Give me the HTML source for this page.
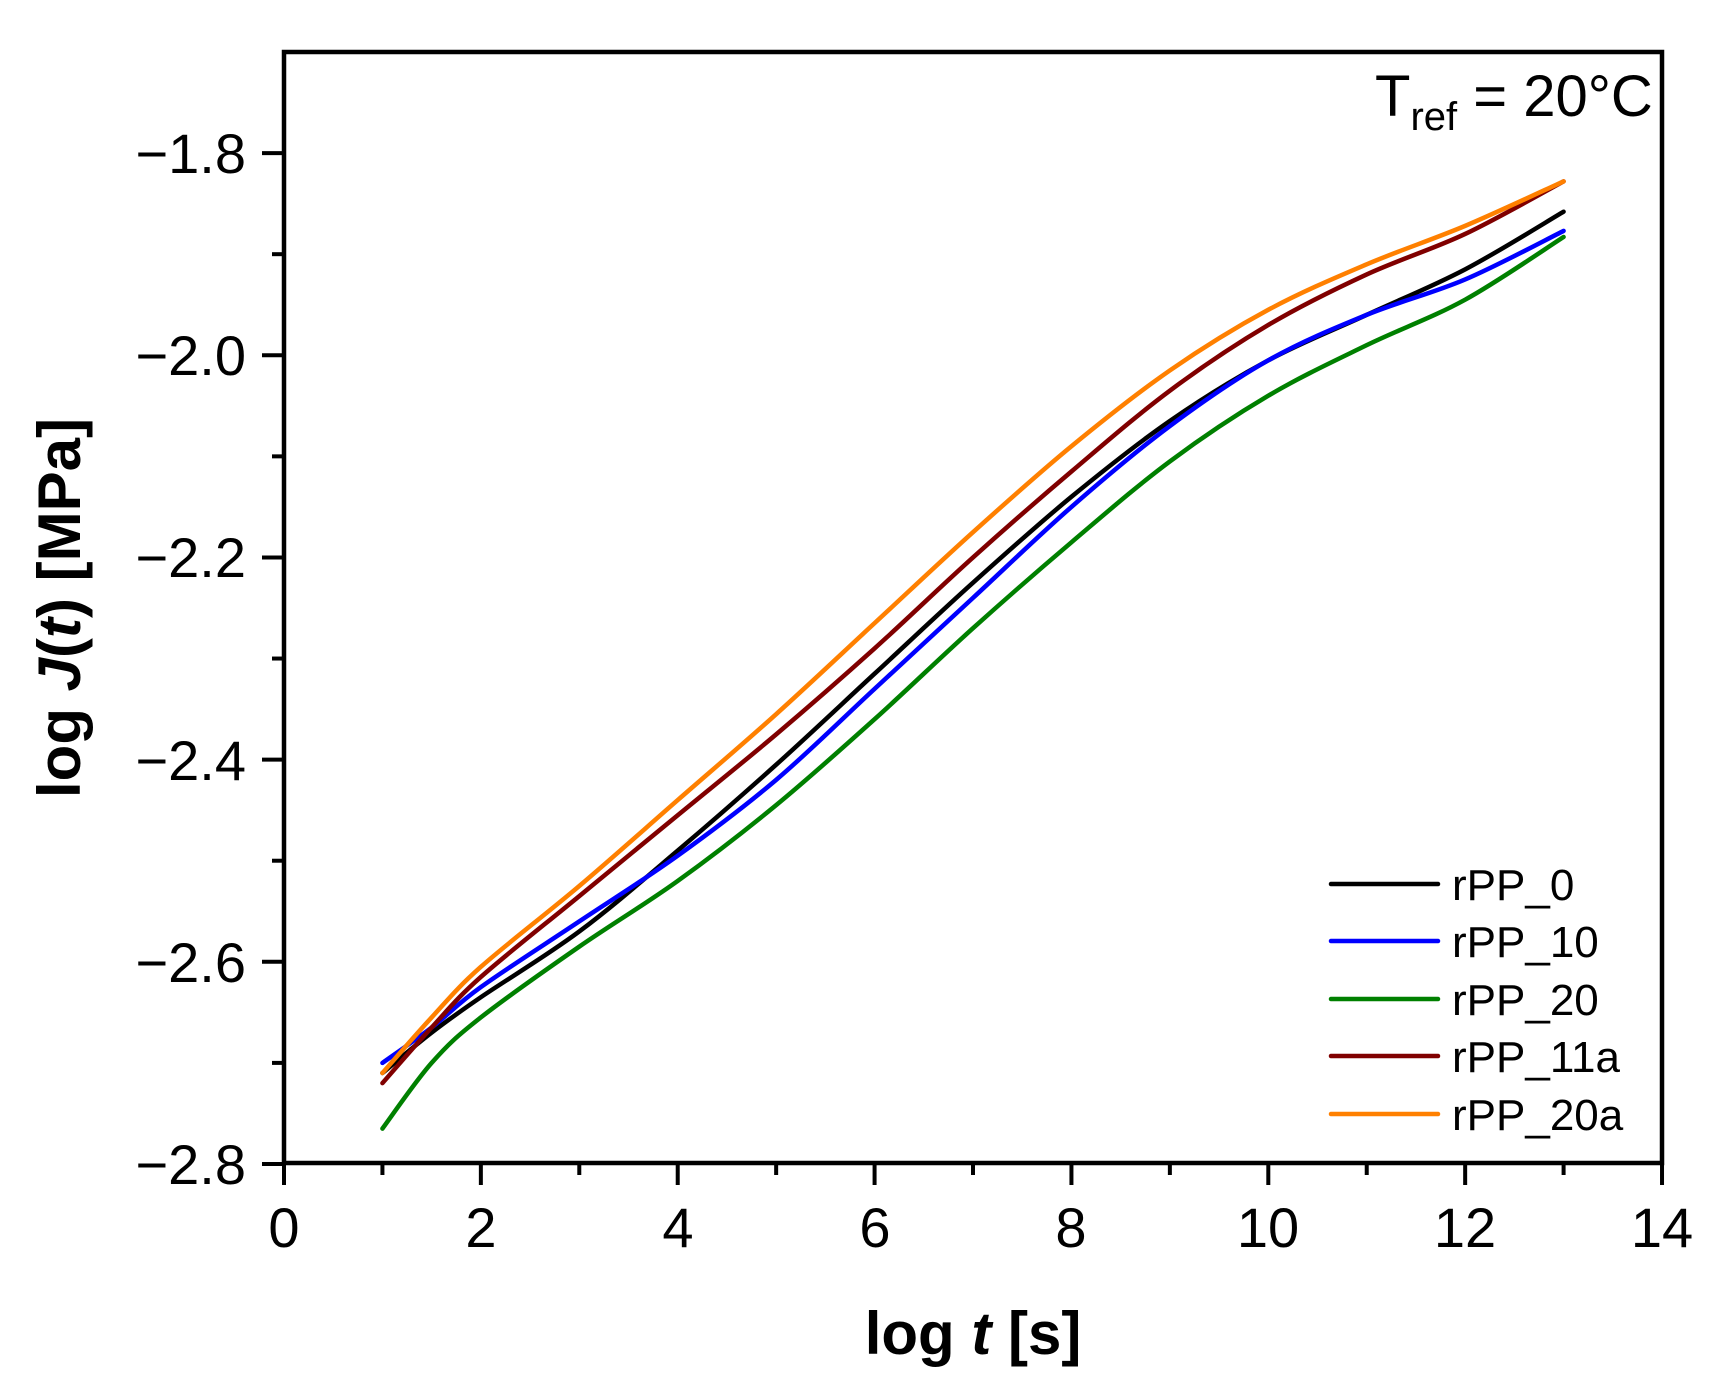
<!DOCTYPE html>
<html><head><meta charset="utf-8"><style>
html,body{margin:0;padding:0;background:#fff;}
svg{display:block;font-family:"Liberation Sans",Arial,sans-serif;}
</style></head><body>
<svg id="s" width="1732" height="1381" viewBox="0 0 1732 1381" xmlns="http://www.w3.org/2000/svg">
<rect width="1732" height="1381" fill="#fff"/>
<g id="ticks" stroke="#000" stroke-width="4"></g>
<g id="curves" fill="none" stroke-width="4.5" stroke-linejoin="round" stroke-linecap="round"></g>
<rect x="284" y="52" width="1378" height="1111" fill="none" stroke="#000" stroke-width="4.5"/>
<g font-size="56" fill="#000" text-anchor="end">
<text x="246" y="173">−1.8</text>
<text x="246" y="375">−2.0</text>
<text x="246" y="577">−2.2</text>
<text x="246" y="780">−2.4</text>
<text x="246" y="982">−2.6</text>
<text x="246" y="1184">−2.8</text>
</g>
<g font-size="56" fill="#000" text-anchor="middle">
<text x="284" y="1247">0</text>
<text x="481" y="1247">2</text>
<text x="678" y="1247">4</text>
<text x="875" y="1247">6</text>
<text x="1071" y="1247">8</text>
<text x="1268" y="1247">10</text>
<text x="1465" y="1247">12</text>
<text x="1662" y="1247">14</text>
</g>
<text x="973" y="1354" font-size="60" font-weight="bold" text-anchor="middle">log <tspan font-style="italic">t</tspan> [s]</text>
<text transform="translate(80,608) rotate(-90)" font-size="60" font-weight="bold" text-anchor="middle">log <tspan font-style="italic">J</tspan>(<tspan font-style="italic">t</tspan>) [MPa]</text>
<text x="1375" y="116" font-size="58">T<tspan font-size="40" dy="14">ref</tspan><tspan dy="-14"> = 20°C</tspan></text>
<g stroke-width="4.5" stroke-linecap="round">
<line x1="1331" y1="884" x2="1438" y2="884" stroke="#000"/>
<line x1="1331" y1="941" x2="1438" y2="941" stroke="#0000ff"/>
<line x1="1331" y1="999" x2="1438" y2="999" stroke="#008000"/>
<line x1="1331" y1="1056" x2="1438" y2="1056" stroke="#800000"/>
<line x1="1331" y1="1114" x2="1438" y2="1114" stroke="#ff8000"/>
</g>
<g font-size="44" fill="#000">
<text x="1452" y="900">rPP_0</text>
<text x="1452" y="957">rPP_10</text>
<text x="1452" y="1015">rPP_20</text>
<text x="1452" y="1072">rPP_11a</text>
<text x="1452" y="1130">rPP_20a</text>
</g>
</svg>
<script>
(function(){
function X(x){return 284+98.43*x;}
function Y(y){return 52+1010.9*(-1.7-y);}
var t=document.getElementById("ticks"),h="";
for(var i=0;i<=14;i++){var x=X(i),L=(i%2==0)?22:12;h+='<line x1="'+x+'" y1="1163" x2="'+x+'" y2="'+(1163+L)+'"/>';}
for(var j=0;j<=11;j++){var v=-2.8+j*0.1,y=Y(v),L=(j%2==0)?22:12;if(y<54)continue;h+='<line x1="284" y1="'+y+'" x2="'+(284-L)+'" y2="'+y+'"/>';}
t.innerHTML=h;
var xs=[1,1.5,2,3,4,5,6,7,8,9,10,11,12,13];
var D=[
["#000",[-2.71,-2.67,-2.635,-2.57,-2.49,-2.405,-2.315,-2.225,-2.14,-2.065,-2.005,-1.96,-1.915,-1.858]],
["#0000ff",[-2.70,-2.665,-2.625,-2.56,-2.495,-2.42,-2.33,-2.24,-2.15,-2.07,-2.005,-1.96,-1.925,-1.877]],
["#008000",[-2.765,-2.70,-2.655,-2.585,-2.52,-2.445,-2.36,-2.27,-2.185,-2.105,-2.04,-1.99,-1.945,-1.883]],
["#800000",[-2.72,-2.665,-2.615,-2.535,-2.455,-2.375,-2.29,-2.2,-2.115,-2.035,-1.97,-1.92,-1.88,-1.828]],
["#ff8000",[-2.71,-2.655,-2.605,-2.525,-2.44,-2.355,-2.265,-2.175,-2.09,-2.015,-1.955,-1.91,-1.872,-1.828]]];
var g=document.getElementById("curves"),out="";
D.forEach(function(s){
var P=xs.map(function(x,k){return [X(x),Y(s[1][k])];});
var d="M"+P[0][0]+","+P[0][1];
for(var k=0;k<P.length-1;k++){
var p0=P[k-1]||P[k],p1=P[k],p2=P[k+1],p3=P[k+2]||P[k+1];
var c1=[p1[0]+(p2[0]-p0[0])/6,p1[1]+(p2[1]-p0[1])/6],c2=[p2[0]-(p3[0]-p1[0])/6,p2[1]-(p3[1]-p1[1])/6];
d+=" C"+c1[0]+","+c1[1]+" "+c2[0]+","+c2[1]+" "+p2[0]+","+p2[1];}
out+='<path d="'+d+'" stroke="'+s[0]+'"/>';});
g.innerHTML=out;
})();
</script>
</body></html>
